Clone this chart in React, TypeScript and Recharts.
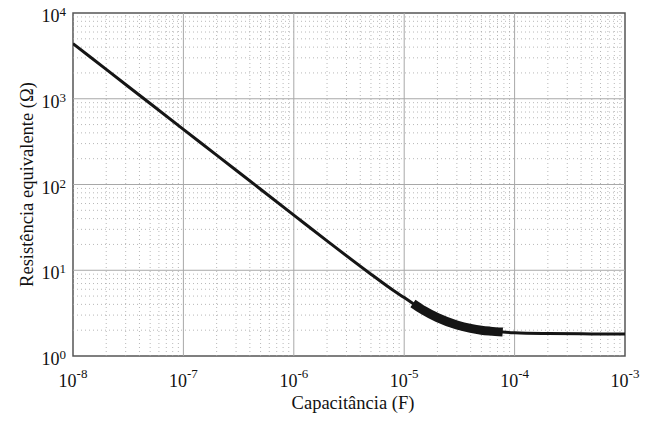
import React from "react"
import {
  LineChart,
  Line,
  XAxis,
  YAxis,
  ReferenceLine,
  ReferenceArea,
} from "recharts"

// capacitance (F) vs equivalent resistance (ohm)
const capacitance = [
  1e-8, 2e-8, 5e-8, 1e-7, 2e-7, 5e-7, 1e-6, 2e-6, 5e-6, 8e-6, 1e-5, 1.2e-5,
  1.5e-5, 2e-5, 3e-5, 4e-5, 5e-5, 6e-5, 7.8e-5, 1e-4, 2e-4, 5e-4, 1e-3,
]
const resistance = [
  4400, 2200, 880, 440, 220, 88, 44, 22, 9.0, 5.8, 4.8, 4.1, 3.4, 2.8, 2.3,
  2.1, 2.0, 1.95, 1.9, 1.87, 1.83, 1.81, 1.8,
]
// highlighted (thick) section of the curve
const highlightFrom = 1.2e-5
const highlightTo = 7.8e-5

const xTicks = [1e-8, 1e-7, 1e-6, 1e-5, 1e-4, 1e-3]
const yTicks = [1, 10, 100, 1000, 10000]
const minorMult = [2, 3, 4, 5, 6, 7, 8, 9]

const data = capacitance.map((c, i) => ({ c, r: resistance[i] }))
const highlight = data.filter((d) => d.c >= highlightFrom && d.c <= highlightTo)

const minorX = xTicks.slice(0, -1).flatMap((t) => minorMult.map((m) => t * m))
const minorY = yTicks.slice(0, -1).flatMap((t) => minorMult.map((m) => t * m))

const font = "Liberation Serif, serif"

function XTick(props: any) {
  const { x, payload } = props
  const exp = Math.round(Math.log10(payload.value))
  return (
    <text x={x} y={387} textAnchor="middle" style={{ fontFamily: font }} fontSize={18} fill="#111">
      <tspan>10</tspan>
      <tspan dy={-9} fontSize={13}>{exp}</tspan>
    </text>
  )
}

function YTick(props: any) {
  const { y, payload } = props
  const exp = Math.round(Math.log10(payload.value))
  return (
    <text x={66} y={y + 9} textAnchor="end" style={{ fontFamily: font }} fontSize={18} fill="#111">
      <tspan>10</tspan>
      <tspan dy={-6} fontSize={13}>{exp}</tspan>
    </text>
  )
}

function YLabel(props: any) {
  const vb = props.viewBox || {}
  const cx = 33
  const cy = (vb.y ?? 13) + (vb.height ?? 343) / 2
  return (
    <text
      x={cx}
      y={cy}
      transform={`rotate(-90, ${cx}, ${cy})`}
      textAnchor="middle"
      style={{ fontFamily: font }}
      fontSize={18.5}
      fill="#111"
    >
      Resistência equivalente (Ω)
    </text>
  )
}

function XLabel(props: any) {
  const vb = props.viewBox || {}
  const cx = (vb.x ?? 73) + (vb.width ?? 552) / 2 + 4
  return (
    <text x={cx} y={409} textAnchor="middle" style={{ fontFamily: font }} fontSize={18.5} fill="#111">
      Capacitância (F)
    </text>
  )
}

export default function App() {
  return (
    <div style={{ position: "absolute", left: 0, top: 0, background: "#fff", fontFamily: font }}>
      <LineChart
        width={659}
        height={421}
        data={data}
        margin={{ top: 13, right: 34, left: 0, bottom: 0 }}
      >
        <XAxis
          dataKey="c"
          type="number"
          scale="log"
          domain={[1e-8, 1e-3]}
          ticks={xTicks}
          allowDataOverflow
          axisLine={false}
          tickLine={false}
          height={65}
          tick={<XTick />}
          label={<XLabel />}
        />
        <YAxis
          type="number"
          scale="log"
          domain={[1, 10000]}
          ticks={yTicks}
          allowDataOverflow
          axisLine={false}
          tickLine={false}
          width={73}
          tick={<YTick />}
          label={<YLabel />}
        />
        {minorX.map((v) => (
          <ReferenceLine key={"mx" + v} x={v} stroke="#a6a6a6" strokeWidth={0.8} strokeDasharray="1 3" />
        ))}
        {minorY.map((v) => (
          <ReferenceLine key={"my" + v} y={v} stroke="#a6a6a6" strokeWidth={0.8} strokeDasharray="1 3" />
        ))}
        {xTicks.slice(1, -1).map((v) => (
          <ReferenceLine key={"Mx" + v} x={v} stroke="#a8a8a8" strokeWidth={1} />
        ))}
        {yTicks.slice(1, -1).map((v) => (
          <ReferenceLine key={"My" + v} y={v} stroke="#a8a8a8" strokeWidth={1} />
        ))}
        <ReferenceArea
          x1={1e-8}
          x2={1e-3}
          y1={1}
          y2={10000}
          fill="none"
          stroke="#555"
          strokeWidth={1.5}
        />
        <Line
          dataKey="r"
          type="monotone"
          stroke="#151515"
          strokeWidth={3}
          dot={false}
          isAnimationActive={false}
        />
        <Line
          data={highlight}
          dataKey="r"
          type="monotone"
          stroke="#151515"
          strokeWidth={9}
          strokeLinecap="butt"
          dot={false}
          isAnimationActive={false}
        />
      </LineChart>
    </div>
  )
}
